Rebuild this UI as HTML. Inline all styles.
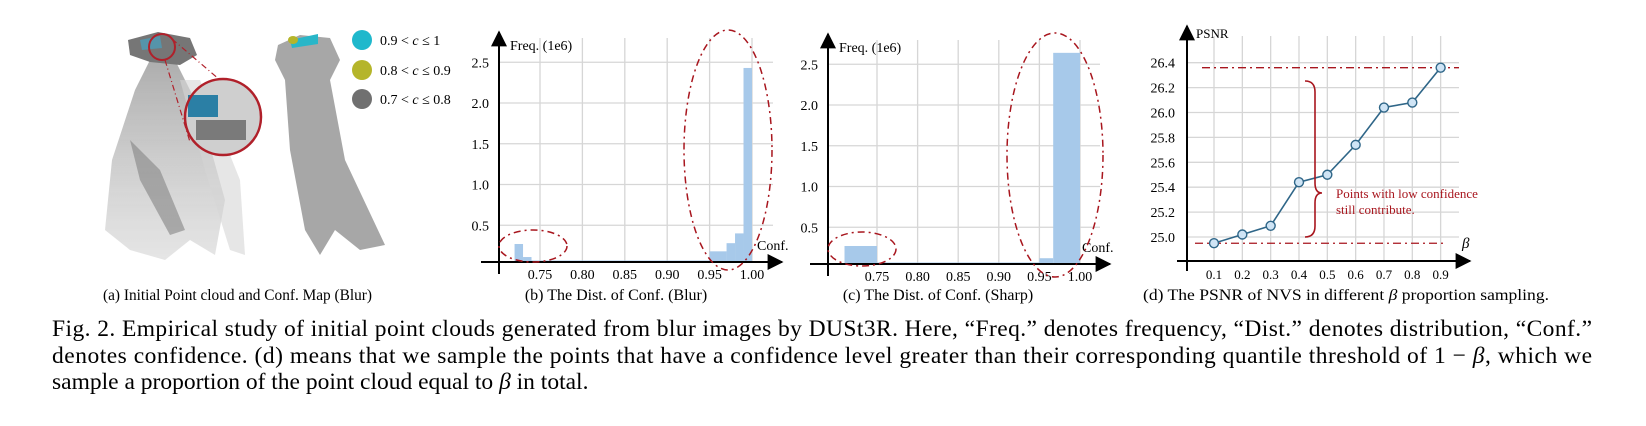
<!DOCTYPE html>
<html><head><meta charset="utf-8"><style>
html,body{margin:0;padding:0;background:#fff}
svg{display:block;font-family:"Liberation Serif",serif}
</style></head><body>
<svg id="fig" width="1646" height="426" viewBox="0 0 1646 426" xmlns="http://www.w3.org/2000/svg">
<defs>
<marker id="arr" viewBox="0 0 10 10" refX="9" refY="5" markerWidth="8" markerHeight="8" orient="auto"><path d="M0,0 L10,5 L0,10 z" fill="#000"/></marker>
<linearGradient id="fade" x1="0" y1="0" x2="0" y2="1"><stop offset="0" stop-color="#777"/><stop offset="1" stop-color="#aaa" stop-opacity="0.5"/></linearGradient>
</defs>
<!-- panel a -->
<g>
<g opacity="0.8">
<polygon points="150,60 175,60 200,110 225,200 215,255 190,240 165,260 130,250 105,230 112,160 135,90" fill="url(#fade)" opacity="0.75"/>
<polygon points="180,80 200,80 240,180 245,255 230,250 205,170" fill="#ccc" opacity="0.6"/>
<polygon points="130,140 160,170 185,230 170,235 140,180" fill="#666" opacity="0.6"/>
<polygon points="128,40 158,32 190,38 197,55 180,65 150,62 130,55" fill="#555"/>
<polygon points="140,40 160,36 162,48 142,50" fill="#2b7a95"/>
</g>
<circle cx="162" cy="47" r="13" fill="none" stroke="#b0202a" stroke-width="2"/>
<line x1="172" y1="39" x2="220" y2="80" stroke="#b0202a" stroke-width="1.2" stroke-dasharray="6,3,1,3"/>
<line x1="165" y1="60" x2="190" y2="142" stroke="#b0202a" stroke-width="1.2" stroke-dasharray="6,3,1,3"/>
<g>
<circle cx="223" cy="117" r="38" fill="#cfcfcf"/>
<rect x="188" y="95" width="30" height="22" fill="#2b7fa5"/>
<rect x="196" y="120" width="50" height="20" fill="#555" opacity="0.7"/>
<circle cx="223" cy="117" r="38" fill="none" stroke="#b0202a" stroke-width="2.5"/>
</g>
<g>
<polygon points="278,45 300,35 330,38 340,60 330,80 345,160 385,245 360,250 335,230 320,255 305,230 290,150 285,80 275,60" fill="#8a8a8a" opacity="0.75"/>
<polygon points="290,40 318,34 318,44 292,48" fill="#29b6c8"/>
<ellipse cx="293" cy="40" rx="5" ry="4" fill="#b5b52a"/>
</g>
<g font-size="14">
<circle cx="362" cy="40" r="10" fill="#1fb8cc"/><text x="380" y="45">0.9 &lt; <tspan font-style="italic">c</tspan> ≤ 1</text>
<circle cx="362" cy="70" r="10" fill="#b5b52a"/><text x="380" y="75">0.8 &lt; <tspan font-style="italic">c</tspan> ≤ 0.9</text>
<circle cx="362" cy="99" r="10" fill="#707070"/><text x="380" y="104">0.7 &lt; <tspan font-style="italic">c</tspan> ≤ 0.8</text>
</g>
<text x="103" y="300" font-size="16" textLength="269" lengthAdjust="spacingAndGlyphs">(a) Initial Point cloud and Conf. Map (Blur)</text>
</g>
<g id="chartB"></g>
<g id="chartC"></g>
<g id="chartD"></g>
<g font-size="23.5">
<text x="52" y="336" textLength="1540" lengthAdjust="spacing">Fig. 2.  Empirical study of initial point clouds generated from blur images by DUSt3R. Here, “Freq.” denotes frequency, “Dist.” denotes distribution, “Conf.”</text>
<text x="52" y="363" textLength="1540" lengthAdjust="spacing">denotes confidence. (d) means that we sample the points that have a confidence level greater than their corresponding quantile threshold of 1 − <tspan font-style="italic">β</tspan>, which we</text>
<text x="52" y="389">sample a proportion of the point cloud equal to <tspan font-style="italic">β</tspan> in total.</text>
</g>
</svg>
<script>
const NS="http://www.w3.org/2000/svg";
function mk(p,tag,attrs,txt){const e=document.createElementNS(NS,tag);for(const k in attrs)e.setAttribute(k,attrs[k]);if(txt!==undefined)e.textContent=txt;p.appendChild(e);return e;}
// ---- data
const histTicks=["0.75","0.80","0.85","0.90","0.95","1.00"];
const histTickVals=[0.75,0.80,0.85,0.90,0.95,1.00];
const freqTicks=[0.5,1.0,1.5,2.0,2.5];
const blurBinStart=[0.72,0.73,0.74,0.90,0.95,0.97,0.98,0.99];
const blurBinEnd=[0.73,0.74,0.90,0.95,0.97,0.98,0.99,1.00];
const blurFreq=[0.27,0.11,0.03,0.05,0.18,0.28,0.40,2.43];
const sharpBinStart=[0.71,0.75,0.90,0.95,0.967];
const sharpBinEnd=[0.75,0.90,0.95,0.967,1.00];
const sharpFreq=[0.27,0.02,0.03,0.12,2.64];
const betaTicks=["0.1","0.2","0.3","0.4","0.5","0.6","0.7","0.8","0.9"];
const betaVals=[0.1,0.2,0.3,0.4,0.5,0.6,0.7,0.8,0.9];
const psnrVals=[24.95,25.02,25.09,25.44,25.50,25.74,26.04,26.08,26.36];
const psnrTicks=[25.0,25.2,25.4,25.6,25.8,26.0,26.2,26.4];

function hist(g,cfg,bs,be,fv){
  const X=v=>cfg.x075+(v-0.75)*cfg.px005/0.05;
  const Y=v=>cfg.base-v*cfg.k;
  freqTicks.forEach(t=>{const l=mk(g,'line',{x1:cfg.ax,x2:cfg.right,y1:Y(t),y2:Y(t),stroke:'#d6d6d6','stroke-width':1.3});
    
    const tx=mk(g,'text',{x:cfg.ax-10,y:Y(t)+5,'font-size':14,'text-anchor':'end'},t.toFixed(1));
    });
  histTickVals.forEach((t,i)=>{const l=mk(g,'line',{x1:X(t),x2:X(t),y1:cfg.top,y2:cfg.axisY,stroke:'#d6d6d6','stroke-width':1.3});
    
    const tx=mk(g,'text',{x:X(t),y:cfg.axisY+17,'font-size':14,'text-anchor':'middle'},histTicks[i]);
    });
  fv.forEach((v,i)=>{const y=Y(v);const r=mk(g,'rect',{x:X(bs[i]),y:Math.min(y,cfg.axisY-1.5),width:X(be[i])-X(bs[i]),height:Math.max(cfg.axisY-y,1.5),fill:'#a7c9ea'});
    });
  const xa=mk(g,'line',{x1:cfg.ax-18,x2:cfg.arrowX,y1:cfg.axisY,y2:cfg.axisY,stroke:'#000','stroke-width':2,'marker-end':'url(#arr)'});
  
  const ya=mk(g,'line',{x1:cfg.ax,x2:cfg.ax,y1:cfg.axisY+12,y2:cfg.top-6,stroke:'#000','stroke-width':2,'marker-end':'url(#arr)'});
  
  const ft=mk(g,'text',{x:cfg.ax+11,y:cfg.top+12,'font-size':14},'Freq. (1e6)');
  
  const ct=mk(g,'text',{x:cfg.confX,y:cfg.axisY-12,'font-size':14},'Conf.');
  
  cfg.ells.forEach(e=>{const el=mk(g,'ellipse',{cx:e[0],cy:e[1],rx:e[2],ry:e[3],fill:'none',stroke:'#a8161e','stroke-width':1.5,'stroke-dasharray':'7,4,2,4'});
    });
  const cap=mk(g,'text',{x:cfg.capX,y:300,'font-size':16,'text-anchor':'middle'},cfg.cap);
  
}
hist(document.getElementById('chartB'),{x075:540,px005:42.4,base:266,k:81.5,ax:499,axisY:262,top:38,right:773,arrowX:782,confX:757,
  ells:[[533,246,34,16],[728,150,44,120]],capX:616,cap:'(b) The Dist. of  Conf. (Blur)'},blurBinStart,blurBinEnd,blurFreq);
hist(document.getElementById('chartC'),{x075:877,px005:40.6,base:268,k:81.5,ax:828,axisY:264,top:40,right:1100,arrowX:1110,confX:1082,
  ells:[[862,249,34,17],[1055,155,48,122]],capX:938,cap:'(c) The Dist. of  Conf. (Sharp)'},sharpBinStart,sharpBinEnd,sharpFreq);

(function(){
  const g=document.getElementById('chartD');
  const X=b=>1214+(b-0.1)*283.3;
  const Y=v=>237-(v-25)*124.5;
  const ax=1187,axisY=261,right=1459;
  psnrTicks.forEach(t=>{const l=mk(g,'line',{x1:ax,x2:right,y1:Y(t),y2:Y(t),stroke:'#d6d6d6','stroke-width':1.3});
    
    const tx=mk(g,'text',{x:ax-12,y:Y(t)+5,'font-size':14,'text-anchor':'end'},t.toFixed(1));
    });
  betaVals.forEach((b,i)=>{const l=mk(g,'line',{x1:X(b),x2:X(b),y1:36,y2:axisY,stroke:'#d6d6d6','stroke-width':1.3});
    
    const tx=mk(g,'text',{x:X(b),y:279,'font-size':13,'text-anchor':'middle'},betaTicks[i]);
    });
  const ref1=mk(g,'line',{x1:1202,x2:1459,y1:Y(psnrVals[psnrVals.length-1]),y2:Y(psnrVals[psnrVals.length-1]),stroke:'#a8161e','stroke-width':1.3,'stroke-dasharray':'8,4,2,4'});
  
  const ref2=mk(g,'line',{x1:1195,x2:1447,y1:Y(psnrVals[0]),y2:Y(psnrVals[0]),stroke:'#a8161e','stroke-width':1.3,'stroke-dasharray':'8,4,2,4'});
  
  const pts=psnrVals.map((v,i)=>X(betaVals[i])+','+Y(v)).join(' ');
  const pl=mk(g,'polyline',{points:pts,fill:'none',stroke:'#2f6688','stroke-width':1.6});
  
  psnrVals.forEach((v,i)=>{const c=mk(g,'circle',{cx:X(betaVals[i]),cy:Y(v),r:4.5,fill:'#cfe4f5',stroke:'#2f6688','stroke-width':1.4});
    });
  const br=mk(g,'path',{d:'M1305,81 Q1315,81 1315,92 L1315,183 Q1315,193 1322,193 Q1315,193 1315,203 L1315,226 Q1315,237 1305,237',fill:'none',stroke:'#a8161e','stroke-width':1.6});
  
  const t1=mk(g,'text',{x:1336,y:198,'font-size':13,fill:'#a8161e'},'Points with low confidence');
  
  const t2=mk(g,'text',{x:1336,y:214,'font-size':13,fill:'#a8161e'},'still contribute.');
  
  const xa=mk(g,'line',{x1:ax-10,x2:1470,y1:axisY,y2:axisY,stroke:'#000','stroke-width':2,'marker-end':'url(#arr)'});
  
  const ya=mk(g,'line',{x1:ax,x2:ax,y1:axisY+10,y2:26,stroke:'#000','stroke-width':2,'marker-end':'url(#arr)'});
  
  const yt=mk(g,'text',{x:ax+9,y:38,'font-size':13},'PSNR');
  
  const bt=mk(g,'text',{x:1462,y:248,'font-size':15,'font-style':'italic'},'β');
  
  const cap=mk(g,'text',{x:1143,y:300,'font-size':16,textLength:406,lengthAdjust:'spacingAndGlyphs'});
  cap.innerHTML='(d) The PSNR of NVS in different <tspan font-style="italic">β</tspan> proportion sampling.';
  
})();
</script>
</body></html>
